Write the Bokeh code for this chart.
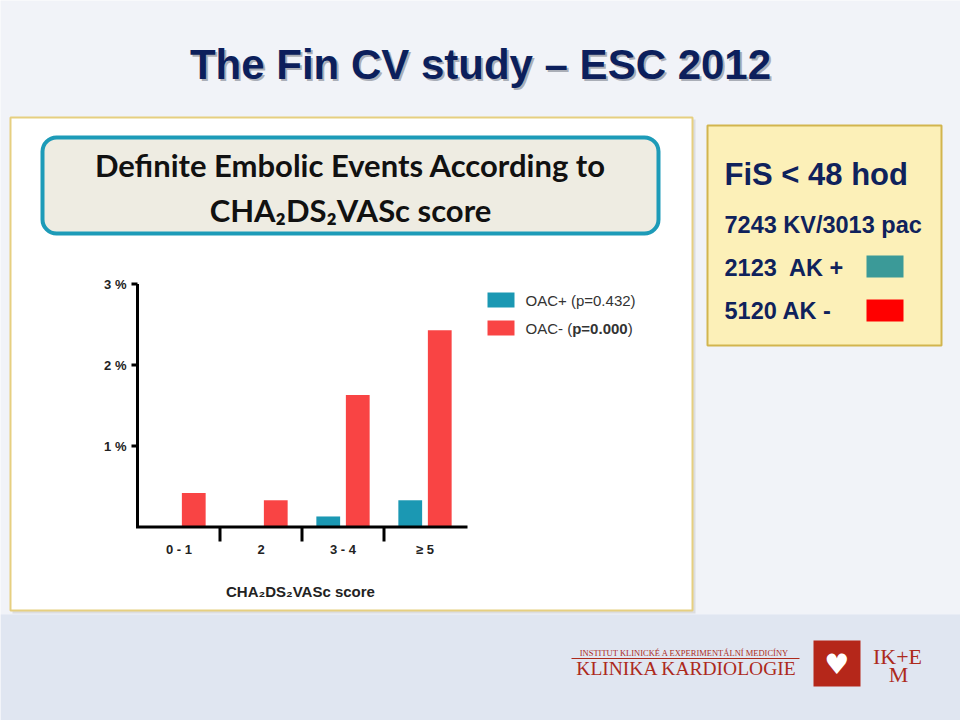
from bokeh.plotting import figure
from bokeh.models import Range1d, ColumnDataSource
from bokeh.transform import dodge
from bokeh.core.properties import value
from bokeh.embed import file_html
from bokeh.resources import INLINE

# ---------------- data ----------------
categories = ["0-1", "2", "3-4", "\u22655"]
cat_labels = ["0 - 1", "2", "3 - 4", "\u2265 5"]
oac_plus = [0.0, 0.0, 0.13, 0.33]
oac_minus = [0.42, 0.33, 1.63, 2.43]
y_ticks = [1, 2, 3]
y_tick_labels = ["1 %", "2 %", "3 %"]
series_names = ["OAC+ (p=0.432)", "OAC- (p=0.000)"]
series_colors = ["#1b98b3", "#f94444"]
x_title = "CHA\u2082DS\u2082VASc score"
box_title = ["Definite Embolic Events According to", "CHA\u2082DS\u2082VASc score"]
slide_title = "The Fin CV study \u2013 ESC 2012"
info_lines = ["FiS < 48 hod", "7243 KV/3013 pac", "2123\u00a0 AK +", "5120 AK -"]
info_colors = ["#3b9a98", "#ff0000"]

# ---------------- layout constants ----------------
W, H = 960, 720
ZERO_PX, PX_PER_PCT = 526.5, 81.0
CAT0_PX, PX_PER_CAT = 178.5, 82.0
NAVY = "#0f225c"
SANS = value("Liberation Sans")
SERIF = value("Liberation Serif")
BRICK = "#ad2a1c"
BG = "#f1f3f8"

p = figure(width=W, height=H, x_range=Range1d(0, W), y_range=Range1d(H, 0),
           x_axis_type=None, y_axis_type=None, toolbar_location=None,
           output_backend="svg", min_border=0, outline_line_color=None,
           background_fill_color=BG, border_fill_color=BG)
p.extra_y_ranges = {"pct": Range1d(start=(ZERO_PX - H) / PX_PER_PCT, end=ZERO_PX / PX_PER_PCT)}
p.extra_x_ranges = {"cat": Range1d(start=-CAT0_PX / PX_PER_CAT, end=(W - CAT0_PX) / PX_PER_CAT)}

# bottom strip
p.quad(left=0, right=W, top=614, bottom=H, fill_color="#e0e6f1", line_color=None)

# slide title with shadow
p.text(x=[482], y=[66], text=[slide_title], text_font=SANS, text_font_style="bold",
       text_font_size="42px", text_color="#7a7f8c", text_alpha=0.6,
       text_align="center", text_baseline="middle")
p.text(x=[480], y=[64], text=[slide_title], text_font=SANS, text_font_style="bold",
       text_font_size="42px", text_color="#0c1f5c", text_align="center", text_baseline="middle")

# white panel (with faint shadow)
p.quad(left=12, right=695, top=119, bottom=613, fill_color="#c8c8c8", fill_alpha=0.5,
       line_color=None)
p.quad(left=10, right=692, top=117, bottom=610, fill_color="white",
       line_color="#e6cf80", line_width=2)

# title box
p.quad(left=42, right=658, top=137, bottom=233, fill_color="#eeece2",
       line_color="#1d9bb8", line_width=4, border_radius=14)
p.text(x=[350, 350], y=[164, 209], text=box_title, text_font=value("Lato"),
       text_font_style="bold", text_font_size="31px", text_color="#111111",
       text_align="center", text_baseline="middle")

# ---------------- chart ----------------
idx = list(range(len(categories)))
src = ColumnDataSource(dict(idx=idx, plus=oac_plus, minus=oac_minus))
p.vbar(x=dodge("idx", -0.18), top="plus", bottom=0, width=0.29, source=src,
       fill_color=series_colors[0], line_color=None, x_range_name="cat", y_range_name="pct")
p.vbar(x=dodge("idx", 0.18), top="minus", bottom=0, width=0.29, source=src,
       fill_color=series_colors[1], line_color=None, x_range_name="cat", y_range_name="pct")

# y axis
p.segment(x0=[137], x1=[137], y0=[0], y1=[max(y_ticks)], line_color="black",
          line_width=3, y_range_name="pct")
p.segment(x0=[131] * 3, x1=[137] * 3, y0=y_ticks, y1=y_ticks, line_color="black",
          line_width=3, y_range_name="pct")
p.text(x=[126] * 3, y=y_ticks, text=y_tick_labels, text_font=SANS, text_font_style="bold",
       text_font_size="13px", text_color="#222222", text_align="right",
       text_baseline="middle", y_range_name="pct")

# x axis
p.segment(x0=[135.5], x1=[467], y0=[0], y1=[0], line_color="black", line_width=3,
          y_range_name="pct")
bounds = [i + 0.5 for i in idx[:-1]]
p.segment(x0=bounds, x1=bounds, y0=[527] * 3, y1=[541] * 3, line_color="black",
          line_width=3, x_range_name="cat")
p.text(x=idx, y=[549] * 4, text=cat_labels, text_font=SANS, text_font_style="bold",
       text_font_size="13px", text_color="#222222", text_align="center",
       text_baseline="middle", x_range_name="cat")
p.text(x=[300], y=[591], text=[x_title], text_font=SANS, text_font_style="bold",
       text_font_size="15px", text_color="#222222", text_align="center",
       text_baseline="middle")

# chart legend
for i, (nm, col) in enumerate(zip(series_names, series_colors)):
    p.quad(left=487, right=514, top=292 + 28 * i, bottom=307 + 28 * i,
           fill_color=col, line_color=None)
p.text(x=[525], y=[300], text=[series_names[0]], text_font=SANS, text_font_size="15px",
       text_color="#333333", text_baseline="middle")
p.text(x=[525], y=[328], text=["OAC- ("], text_font=SANS, text_font_size="15px",
       text_color="#333333", text_baseline="middle")
p.text(x=[571.7], y=[328], text=["p=0.000"], text_font=SANS, text_font_style="bold",
       text_font_size="15px", text_color="#333333", text_baseline="middle")
p.text(x=[627.2], y=[328], text=[")"], text_font=SANS, text_font_size="15px",
       text_color="#333333", text_baseline="middle")

# ---------------- info box ----------------
p.quad(left=707, right=941, top=125, bottom=345, fill_color="#fcf0b8",
       line_color="#d2b54e", line_width=2)
p.text(x=[724], y=[174], text=[info_lines[0]], text_font=SANS, text_font_style="bold",
       text_font_size="31px", text_color=NAVY, text_baseline="middle")
p.text(x=[724] * 3, y=[224, 267, 310], text=info_lines[1:], text_font=SANS,
       text_font_style="bold", text_font_size="23.5px", text_color=NAVY, text_baseline="middle")
p.quad(left=[866, 866], right=[903, 903], top=[255, 299], bottom=[277, 321],
       fill_color=info_colors, line_color=None)

# ---------------- logo ----------------
p.text(x=[684], y=[652], text=["INSTITUT KLINICK\u00c9 A EXPERIMENT\u00c1LN\u00cd MEDIC\u00cdNY"],
       text_font=SERIF, text_font_size="8.5px", text_color=BRICK, text_align="center",
       text_baseline="middle")
p.segment(x0=[571], x1=[799], y0=[658], y1=[658], line_color=BRICK, line_width=1)
p.text(x=[686], y=[668], text=["KLINIKA KARDIOLOGIE"], text_font=SERIF,
       text_font_size="19.5px", text_color=BRICK, text_align="center", text_baseline="middle")
p.quad(left=813, right=860, top=640, bottom=686, fill_color="#b5271a", line_color=None)
p.text(x=[836.5], y=[664], text=["\u2665"], text_font=value("DejaVu Sans"),
       text_font_size="28px", text_color="white", text_align="center", text_baseline="middle")
p.text(x=[897], y=[656], text=["IK+E"], text_font=SERIF, text_font_size="22px",
       text_color=BRICK, text_align="center", text_baseline="middle")
p.text(x=[898], y=[674], text=["M"], text_font=SERIF, text_font_size="22px",
       text_color=BRICK, text_align="center", text_baseline="middle")

open("out.html", "w").write(file_html(p, INLINE))
